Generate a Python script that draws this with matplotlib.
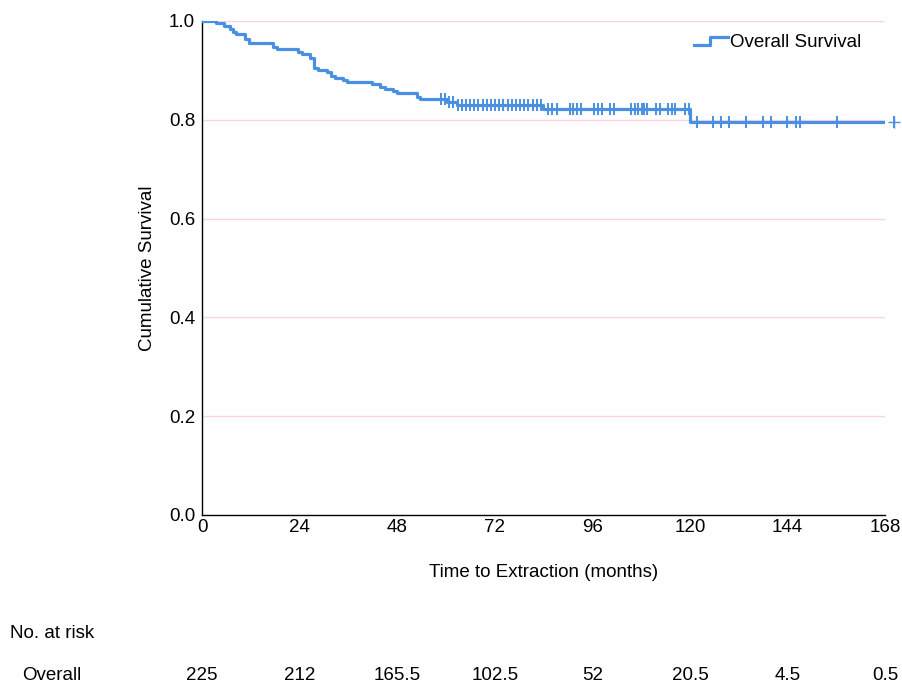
import numpy as np
import matplotlib
matplotlib.use('Agg')
import matplotlib.pyplot as plt
import matplotlib.transforms as mtransforms
from matplotlib.legend_handler import HandlerBase
from matplotlib.lines import Line2D

plt.rcParams['font.family'] = 'Liberation Sans'
plt.rcParams['font.size'] = 13.5

# ---- data ----
event_times = [3.4, 5.4, 6.9, 7.6, 8.3, 10.6, 11.6, 17.5, 18.4, 23.6, 24.6,
               26.6, 27.5, 28.5, 30.7, 31.7, 32.7, 34.7, 35.7, 41.8, 43.8,
               45.0, 47.0, 48.0, 52.9, 53.6, 60.3, 62.7, 83.9, 120.0]
survival = [0.995, 0.990, 0.984, 0.978, 0.974, 0.964, 0.956, 0.948, 0.943,
            0.938, 0.933, 0.926, 0.905, 0.901, 0.897, 0.889, 0.884, 0.881,
            0.876, 0.872, 0.867, 0.862, 0.858, 0.854, 0.847, 0.842, 0.835,
            0.830, 0.822, 0.796]
censor_times = [58.8, 59.8, 60.8, 61.8, 62.9, 63.9, 65.0, 66.0, 67.0, 68.0,
                69.0, 70.0, 71.1, 72.1, 73.1, 74.1, 75.2, 76.2, 77.2, 78.2,
                79.3, 80.2, 81.3, 82.3, 83.3, 85.1, 86.1, 87.3, 90.4, 91.3,
                92.2, 93.1, 96.5, 97.4, 98.4, 100.3, 101.3, 105.6, 106.4,
                107.3, 108.2, 108.8, 109.5, 111.7, 112.7, 114.6, 115.6, 116.4,
                118.8, 119.7, 121.7, 125.8, 127.6, 129.7, 133.8, 137.9, 139.9,
                144.0, 146.1, 147.1, 156.1, 170.3]
last_time = 170.3

risk_times = [0, 24, 48, 72, 96, 120, 144, 168]
risk_counts = ['225', '212', '165.5', '102.5', '52', '20.5', '4.5', '0.5']

line_color = '#4a90e2'
grid_color = '#fcd3e3'


class StepHandler(HandlerBase):
    # draws the little step glyph used in the legend
    def create_artists(self, legend, orig_handle, xdescent, ydescent,
                       width, height, fontsize, trans):
        xs = [0, width * 0.45, width * 0.45, width]
        ys = [height * 0.15, height * 0.15, height * 0.8, height * 0.8]
        xs = [x - xdescent for x in xs]
        ys = [y - ydescent for y in ys]
        ln = Line2D(xs, ys, color=orig_handle.get_color(),
                    linewidth=orig_handle.get_linewidth(), transform=trans)
        return [ln]


fig = plt.figure(figsize=(9.03, 6.86), dpi=100)
ax = fig.add_axes([0.2237, 0.2493, 0.9801 - 0.2237, 0.9694 - 0.2493])

# step curve
xs = np.concatenate([[0], event_times, [last_time]])
ys = np.concatenate([[1.0], survival, [survival[-1]]])
line, = ax.step(xs, ys, where='post', color=line_color, lw=2.3,
                label='Overall Survival', zorder=3)

# censor marks
cens_y = [ys[np.searchsorted(xs, t, side='right') - 1] for t in censor_times]
ax.plot(censor_times, cens_y, linestyle='none', marker='|', ms=9, mew=1.4,
        color=line_color, zorder=4, clip_on=False)
ax.plot([last_time], [survival[-1]], linestyle='none', marker='+', ms=8,
        mew=1.0, color=line_color, zorder=4, clip_on=False)

ax.set_xlim(0, 168)
ax.set_ylim(0, 1.0)
ax.set_xticks(risk_times)
ax.set_yticks([0.0, 0.2, 0.4, 0.6, 0.8, 1.0])
ax.set_yticklabels(['0.0', '0.2', '0.4', '0.6', '0.8', '1.0'])
ax.tick_params(length=0, labelsize=13.5, pad=5)
ax.tick_params(axis='x', pad=3)
for y in [0.2, 0.4, 0.6, 0.8, 1.0]:
    ax.axhline(y, color=grid_color, lw=1.0, zorder=1)
for s in ['top', 'right']:
    ax.spines[s].set_visible(False)
for s in ['left', 'bottom']:
    ax.spines[s].set_color('black')
    ax.spines[s].set_linewidth(1.0)

ax.set_xlabel('Time to Extraction (months)', fontsize=13.5, labelpad=20)
ax.set_ylabel('Cumulative Survival', fontsize=13.5, labelpad=9)

ax.legend(handles=[line], handler_map={Line2D: StepHandler()},
          loc='upper right', bbox_to_anchor=(0.99, 1.008), frameon=False,
          fontsize=13.5, handlelength=1.8, handletextpad=0.1)

# number-at-risk table
trans = mtransforms.blended_transform_factory(ax.transData, fig.transFigure)
fig.text(0.011, 1 - 634 / 686, 'No. at risk', fontsize=13.5, va='center')
fig.text(0.024, 1 - 676 / 686, 'Overall', fontsize=13.5, va='center')
for t, n in zip(risk_times, risk_counts):
    ax.text(t, 1 - 676 / 686, n, transform=trans, ha='center', va='center',
            fontsize=13.5, clip_on=False)

fig.savefig('out.png', dpi=100)
